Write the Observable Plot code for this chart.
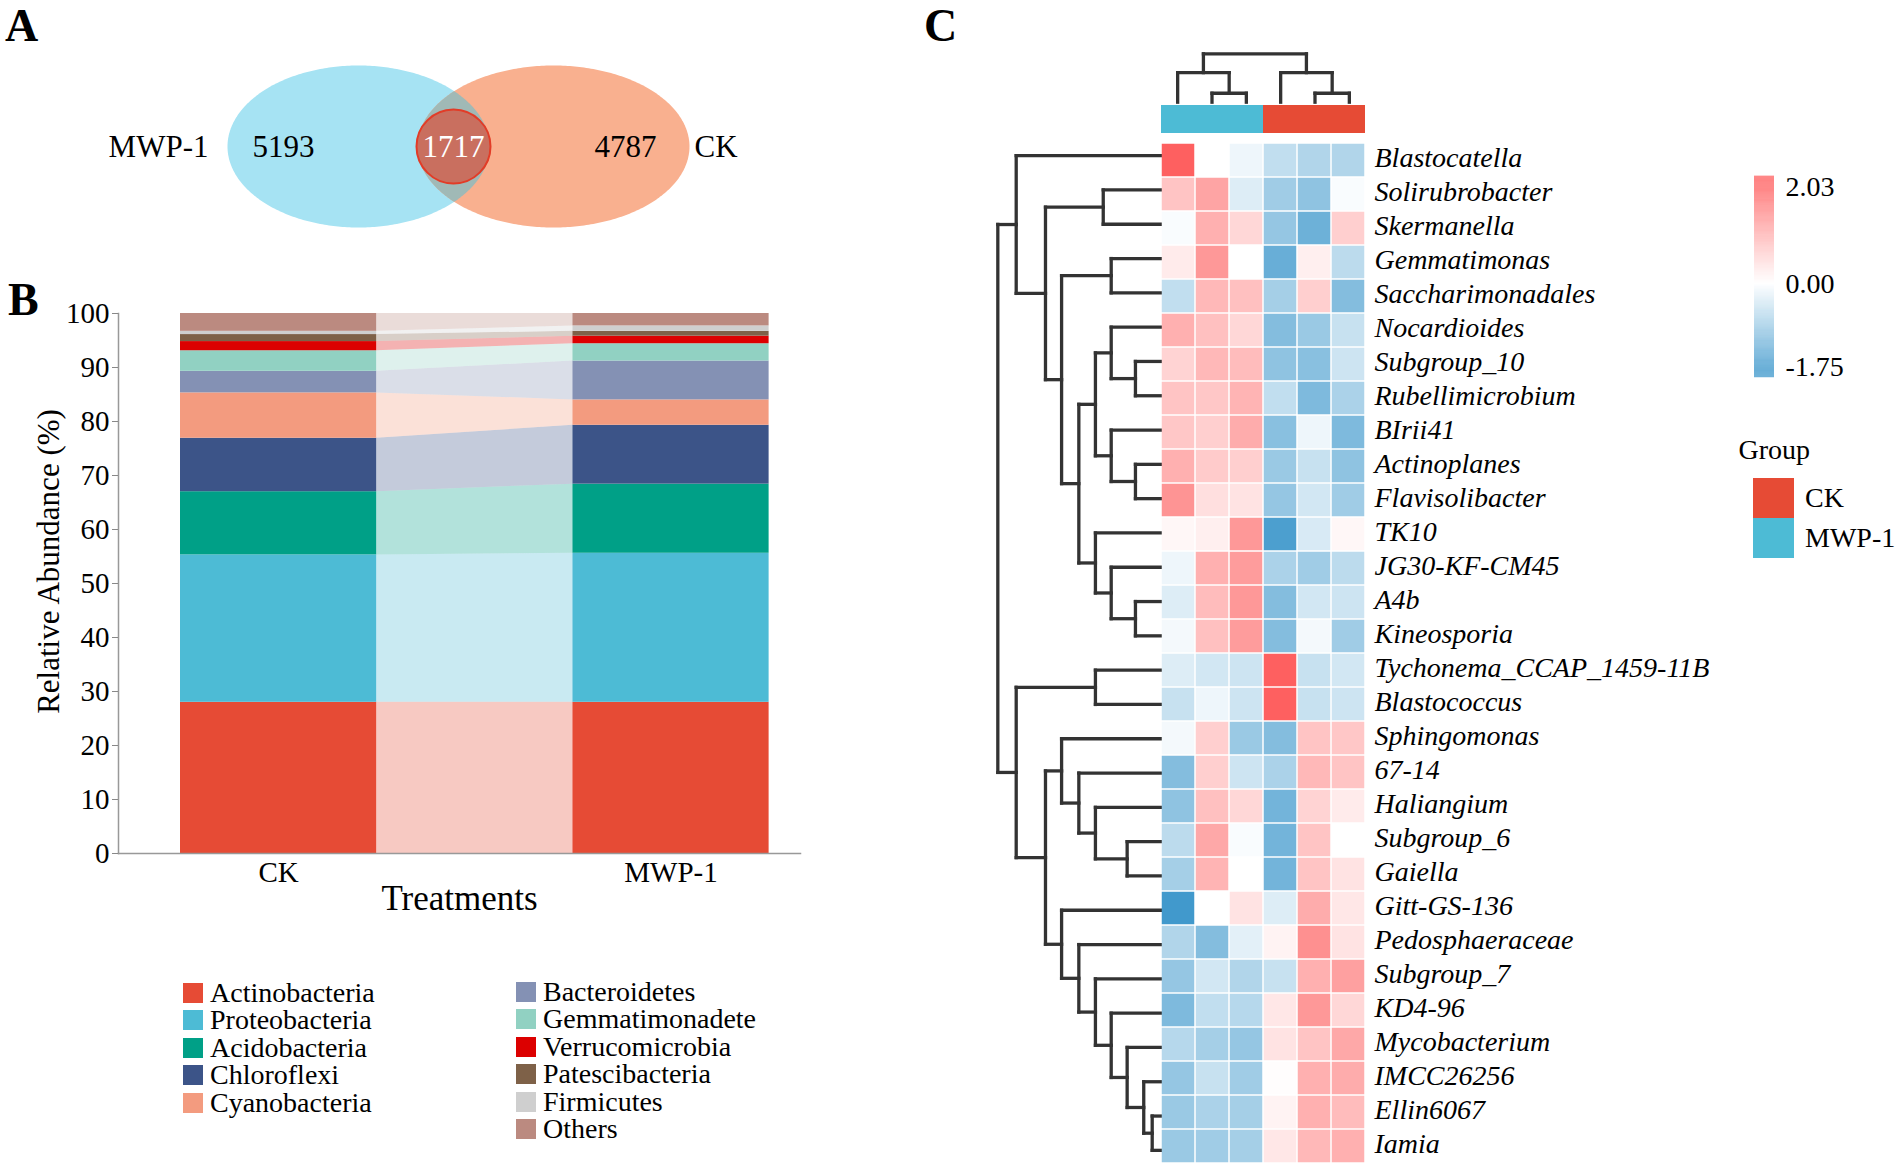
<!DOCTYPE html>
<html>
<head>
<meta charset="utf-8">
<script src="https://cdn.jsdelivr.net/npm/d3@7"></script>
<script src="https://cdn.jsdelivr.net/npm/@observablehq/plot@0.6"></script>
<style>
  html,body{margin:0;padding:0;background:#fff;}
  #fig{position:relative;width:1902px;height:1174px;overflow:hidden;background:#fff;
       font-family:"Liberation Serif","Times New Roman",serif;color:#000;}
  #fig .abs{position:absolute;}
  .plab{font-weight:bold;font-size:46px;line-height:1;}
  .leg{font-size:28px;line-height:26px;}
  .leg div{display:flex;align-items:center;height:27.5px;white-space:nowrap;}
  .leg span.sw{display:inline-block;width:20px;height:20px;margin-right:7px;flex:none;}
</style>
</head>
<body>
<div id="fig"></div>
<script>
// ================= DATA =================
// Panel A – Venn diagram
const vennNames = ["MWP-1", "CK"];
const vennOnly = [5193, 4787];
const vennShared = [1717];

// Panel B – relative abundance of phyla (%)
const treatments = ["CK", "MWP-1"];
const phyla = ["Actinobacteria", "Proteobacteria", "Acidobacteria", "Chloroflexi", "Cyanobacteria",
  "Bacteroidetes", "Gemmatimonadetes", "Verrucomicrobia", "Patescibacteria", "Firmicutes", "Others"];
const phylaLabels = ["Actinobacteria", "Proteobacteria", "Acidobacteria", "Chloroflexi", "Cyanobacteria",
  "Bacteroidetes", "Gemmatimonadete", "Verrucomicrobia", "Patescibacteria", "Firmicutes", "Others"];
const phylaColors = ["#e64b35", "#4dbbd5", "#00a087", "#3c5488", "#f39b7f",
  "#8491b4", "#91d1c2", "#dc0000", "#7e6148", "#cfcfcf", "#bb8a80"];
const abundanceCK  = [28.0, 27.3, 11.7, 9.9, 8.4, 4.0, 3.8, 1.7, 1.3, 0.6, 3.3];
const abundanceMWP = [28.0, 27.6, 12.8, 10.9, 4.7, 7.2, 3.2, 1.4, 0.9, 1.0, 2.3];
const yTickValues = [0, 10, 20, 30, 40, 50, 60, 70, 80, 90, 100];

// Panel C – heatmap of genera (row z-scores)
const genera = ["Blastocatella", "Solirubrobacter", "Skermanella", "Gemmatimonas", "Saccharimonadales",
  "Nocardioides", "Subgroup_10", "Rubellimicrobium", "BIrii41", "Actinoplanes", "Flavisolibacter",
  "TK10", "JG30-KF-CM45", "A4b", "Kineosporia", "Tychonema_CCAP_1459-11B", "Blastococcus",
  "Sphingomonas", "67-14", "Haliangium", "Subgroup_6", "Gaiella", "Gitt-GS-136", "Pedosphaeraceae",
  "Subgroup_7", "KD4-96", "Mycobacterium", "IMCC26256", "Ellin6067", "Iamia"];
const sampleCols = ["MWP-1 a", "MWP-1 b", "MWP-1 c", "CK a", "CK b", "CK c"];
const sampleGroups = ["MWP-1", "MWP-1", "MWP-1", "CK", "CK", "CK"];
const zScores = [
  [ 2.00,  0.00, -0.15, -0.55, -0.70, -0.70],
  [ 0.75,  1.15, -0.30, -0.85, -1.00, -0.05],
  [-0.05,  1.00,  0.50, -0.95, -1.30,  0.60],
  [ 0.25,  1.30,  0.00, -1.35,  0.20, -0.60],
  [-0.55,  0.90,  0.80, -0.80,  0.60, -1.10],
  [ 1.00,  0.80,  0.50, -1.10, -0.90, -0.50],
  [ 0.55,  0.90,  0.85, -1.00, -1.05, -0.45],
  [ 0.75,  0.70,  0.95, -0.55, -1.15, -0.75],
  [ 0.70,  0.60,  1.05, -1.05, -0.15, -1.15],
  [ 1.00,  0.65,  0.60, -0.90, -0.50, -1.00],
  [ 1.35,  0.40,  0.35, -0.95, -0.40, -0.85],
  [ 0.10,  0.20,  1.30, -1.60, -0.35,  0.10],
  [-0.15,  1.00,  1.25, -0.75, -0.85, -0.60],
  [-0.30,  0.85,  1.30, -1.10, -0.40, -0.45],
  [-0.10,  0.80,  1.25, -1.10, -0.10, -0.85],
  [-0.30, -0.40, -0.45,  2.00, -0.50, -0.40],
  [-0.50, -0.15, -0.45,  2.00, -0.50, -0.45],
  [-0.10,  0.60, -0.90, -1.10,  0.75,  0.70],
  [-1.10,  0.60, -0.45, -0.75,  0.90,  0.75],
  [-1.00,  0.80,  0.50, -1.25,  0.55,  0.25],
  [-0.60,  1.10, -0.05, -1.25,  0.75,  0.00],
  [-0.80,  0.95,  0.00, -1.25,  0.75,  0.35],
  [-1.70,  0.00,  0.35, -0.30,  1.05,  0.30],
  [-0.70, -1.10, -0.25,  0.15,  1.40,  0.35],
  [-0.95, -0.40, -0.70, -0.50,  1.00,  1.20],
  [-1.15, -0.55, -0.65,  0.30,  1.30,  0.50],
  [-0.65, -0.80, -0.95,  0.35,  0.75,  1.10],
  [-0.95, -0.50, -0.85,  0.02,  1.00,  1.05],
  [-0.90, -0.75, -0.80,  0.15,  1.00,  0.85],
  [-0.90, -0.85, -0.80,  0.30,  0.90,  1.00]];
// hclust-style merges: negative = leaf (1-based), positive = earlier merge step; third = height
const rowMerges = [
  [-2, -3, 3.52], [-4, -5, 3.03], [-7, -8, 1.54], [-6, 3, 3.03], [-10, -11, 1.54],
  [-9, 5, 3.03], [4, 6, 4.0], [-14, -15, 1.54], [-13, 8, 3.03], [-12, 9, 4.0],
  [7, 10, 5.02], [2, 11, 6.08], [1, 12, 7.07], [-1, 13, 8.87], [-16, -17, 4.0],
  [-21, -22, 2.05], [-20, 16, 4.0], [-19, 17, 5.02], [-18, 18, 6.08], [-29, -30, 0.51],
  [-28, 20, 1.03], [-27, 21, 2.05], [-26, 22, 3.03], [-25, 23, 4.0], [-24, 24, 5.02],
  [-23, 25, 6.08], [19, 26, 7.07], [15, 27, 8.87], [14, 28, 10.0]];
const colMerges = [[-2, -3, 1.0], [-1, 1, 3.3], [-5, -6, 1.0], [-4, 3, 3.3], [2, 4, 5.4]];
const legendTicks = [2.03, 0.00, -1.75];
const groupNames = ["CK", "MWP-1"];
const groupColors = ["#e64b35", "#4dbbd5"];

// ================= HELPERS =================
const fig = document.getElementById("fig");
const FONT = "Liberation Serif, Times New Roman, serif";
function place(el, left, top) {
  el.classList.add("abs");
  el.style.left = left + "px";
  el.style.top = top + "px";
  fig.appendChild(el);
  return el;
}
function baseStyle(extra = {}) {
  return Object.assign({fontFamily: FONT, fontSize: "28px", background: "transparent", overflow: "visible", color: "#000"}, extra);
}
function panelLetter(txt, left, top) {
  const d = document.createElement("div");
  d.className = "plab";
  d.textContent = txt;
  place(d, left, top);
}
function dendroSegments(merges) {
  const pos = [], hgt = [], segs = [];
  const get = k => k < 0 ? {p: -k - 1, h: 0} : {p: pos[k - 1], h: hgt[k - 1]};
  merges.forEach(([a, b, h], i) => {
    const A = get(a), B = get(b);
    pos[i] = (A.p + B.p) / 2; hgt[i] = h;
    segs.push({p1: A.p, h1: A.h, p2: A.p, h2: h});
    segs.push({p1: B.p, h1: B.h, p2: B.p, h2: h});
    segs.push({p1: A.p, h1: h, p2: B.p, h2: h});
  });
  return segs;
}

// ================= PANEL A : Venn =================
panelLetter("A", 5, 3);
{
  const eB = {cx: 358, cy: 146, rx: 131, ry: 81};
  const eO = {cx: 553, cy: 146, rx: 136, ry: 81};
  const shape = (e, a0) => d3.range(0, 361).map(i => {
    const t = a0 + i * Math.PI / 180;
    return {x: e.cx + e.rx * Math.cos(t), y: e.cy + e.ry * Math.sin(t)};
  });
  const inside = (p, e) => ((p.x - e.cx) / e.rx) ** 2 + ((p.y - e.cy) / e.ry) ** 2 <= 1;
  const bluePts = shape(eB, -Math.PI), orangePts = shape(eO, 0);
  const lens = bluePts.filter(p => inside(p, eO)).concat(orangePts.filter(p => inside(p, eB)));
  const svg = Plot.plot({
    width: 800, height: 300, margin: 0,
    x: {domain: [0, 800], range: [0, 800], axis: null},
    y: {domain: [0, 300], range: [0, 300], axis: null},
    style: baseStyle(),
    marks: [
      Plot.line(bluePts, {x: "x", y: "y", fill: "#a6e3f3", stroke: "none"}),
      Plot.line(orangePts, {x: "x", y: "y", fill: "#f9b08f", stroke: "none"}),
      Plot.line(lens, {x: "x", y: "y", fill: "#a0b9b6", stroke: "none"}),
      Plot.dot(vennShared, {x: () => 453, y: () => 146, r: 37, fill: "#c96f5f", stroke: "#e23c27", strokeWidth: 2}),
      Plot.text(vennShared, {x: () => 453, y: () => 147, text: d => String(d), fill: "white", fontSize: 31}),
      Plot.text([vennNames[0]], {x: () => 208, y: () => 147, text: d => d, textAnchor: "end", fontSize: 31}),
      Plot.text([vennOnly[0]], {x: () => 283, y: () => 147, text: d => String(d), fontSize: 31}),
      Plot.text([vennOnly[1]], {x: () => 625, y: () => 147, text: d => String(d), fontSize: 31}),
      Plot.text([vennNames[1]], {x: () => 694, y: () => 147, text: d => d, textAnchor: "start", fontSize: 31})
    ]
  });
  place(svg, 0, 0);
}

// ================= PANEL B : stacked bars =================
panelLetter("B", 8, 277);
{
  const stacks = [];
  treatments.forEach((t, ti) => {
    const vals = ti === 0 ? abundanceCK : abundanceMWP;
    let acc = 0;
    phyla.forEach((p, pi) => {
      stacks.push({t, p, x1: ti * 2, x2: ti * 2 + 1, y1: acc, y2: acc + vals[pi]});
      acc += vals[pi];
    });
  });
  const bands = phyla.flatMap(p => treatments.map((t, ti) => {
    const s = stacks.find(d => d.t === t && d.p === p);
    return {p, x: ti === 0 ? 1 : 2, y1: s.y1, y2: s.y2};
  }));
  const svg = Plot.plot({
    width: 820, height: 650,
    marginLeft: 118, marginRight: 20, marginTop: 33, marginBottom: 77,
    x: {domain: [-0.316, 3.16], axis: null},
    y: {domain: [0, 100]},
    color: {domain: phyla, range: phylaColors},
    style: baseStyle(),
    marks: [
      Plot.areaY(bands, {x: "x", y1: "y1", y2: "y2", z: "p", fill: "p", fillOpacity: 0.3}),
      Plot.rect(stacks, {x1: "x1", x2: "x2", y1: "y1", y2: "y2", fill: "p"}),
      Plot.frame({anchor: "left", stroke: "#999", strokeWidth: 1.5}),
      Plot.frame({anchor: "bottom", stroke: "#999", strokeWidth: 1.5}),
      Plot.axisY({ticks: yTickValues, tickSize: 6, tickPadding: 3, stroke: "#888", fontSize: 29, label: null}),
      Plot.axisX({ticks: treatments.map((t, i) => i * 2 + 0.5), tickFormat: d => treatments[Math.round((d - 0.5) / 2)],
        tickSize: 0, tickPadding: 8, fontSize: 29, label: null}),
      Plot.text(["Treatments"], {frameAnchor: "bottom", dy: 56, fontSize: 35}),
      Plot.text(["Relative Abundance (%)"], {frameAnchor: "left", dx: -69, dy: -22, rotate: -90, textAnchor: "middle", fontSize: 31})
    ]
  });
  place(svg, 0, 280);

  // legend
  const mk = (idxs, left, top) => {
    const box = document.createElement("div");
    box.className = "leg";
    idxs.forEach(i => {
      const row = document.createElement("div");
      const sw = document.createElement("span");
      sw.className = "sw"; sw.style.background = phylaColors[i];
      const tx = document.createElement("span");
      tx.textContent = phylaLabels[i];
      row.appendChild(sw);
      row.appendChild(tx);
      box.appendChild(row);
    });
    place(box, left, top);
  };
  mk([0, 1, 2, 3, 4], 183, 979);
  mk([5, 6, 7, 8, 9, 10], 516, 978);
}

// ================= PANEL C : heatmap =================
panelLetter("C", 924, 3);
const heatColor = {type: "linear", domain: [-1.75, 0, 2.03], range: ["#3b96cb", "#ffffff", "#fe5e5e"], clamp: true};
{
  // row dendrogram
  const rsegs = dendroSegments(rowMerges);
  const svgR = Plot.plot({
    width: 172, height: 1029, margin: 0,
    x: {domain: [10.45, 0], range: [0, 170], axis: null},
    y: {domain: [-0.5, genera.length - 0.5], range: [0, 1029], axis: null},
    style: baseStyle(),
    marks: [Plot.link(rsegs, {x1: "h1", y1: "p1", x2: "h2", y2: "p2", stroke: "#333", strokeWidth: 3.3, strokeLinecap: "square"})]
  });
  place(svgR, 990, 138);

  // column dendrogram
  const csegs = dendroSegments(colMerges);
  const svgC = Plot.plot({
    width: 206, height: 60, margin: 0,
    x: {domain: [-0.5, sampleCols.length - 0.5], range: [0, 206], axis: null},
    y: {domain: [0, 5.4], range: [56.7, 8.3], axis: null},
    style: baseStyle(),
    marks: [Plot.link(csegs, {x1: "p1", y1: "h1", x2: "p2", y2: "h2", stroke: "#333", strokeWidth: 3.3, strokeLinecap: "square"})]
  });
  place(svgC, 1160, 45);

  // group annotation bar
  const svgG = Plot.plot({
    width: 206, height: 28, margin: 0,
    x: {domain: sampleCols, range: [0, 206], padding: 0, axis: null},
    color: {domain: groupNames, range: groupColors},
    style: baseStyle(),
    marks: [Plot.cell(sampleCols.map((c, i) => ({c, g: sampleGroups[i]})), {x: "c", fill: "g"})]
  });
  place(svgG, 1160, 105);

  // heatmap cells + labels
  const cells = genera.flatMap((g, i) => sampleCols.map((c, j) => ({g, c, v: zScores[i][j]})));
  const svgH = Plot.plot({
    width: 560, height: 1029, marginLeft: 0, marginRight: 354, marginTop: 0, marginBottom: 0,
    x: {domain: sampleCols, padding: 0, axis: null},
    y: {domain: genera, padding: 0, axis: null},
    color: heatColor,
    style: baseStyle(),
    marks: [
      Plot.cell(cells, {x: "c", y: "g", fill: "v", inset: 0.75}),
      Plot.text(genera, {y: d => d, text: d => d, frameAnchor: "right", dx: 8, dy: -2, textAnchor: "start", fontStyle: "italic", fontSize: 28})
    ]
  });
  place(svgH, 1160, 138);

  // colour bar legend
  const steps = d3.range(-1.97, 2.26, 0.01);
  const svgL = Plot.plot({
    width: 150, height: 240, marginLeft: 14, marginRight: 116, marginTop: 0, marginBottom: 0,
    x: {axis: null},
    y: {domain: [-1.75, 2.03], range: [206.7, 26.7], axis: null},
    color: heatColor,
    style: baseStyle(),
    marks: [
      Plot.rect(steps, {y1: d => d, y2: d => d + 0.0105, fill: d => d}),
      Plot.text(legendTicks, {y: d => d, text: d => d.toFixed(2), frameAnchor: "right", dx: 11, textAnchor: "start", fontSize: 28})
    ]
  });
  place(svgL, 1740, 160);

  // group legend
  const svgGL = Plot.plot({
    width: 172, height: 140, margin: 0,
    x: {domain: ["g"], range: [23, 64], padding: 0, axis: null},
    y: {domain: groupNames, range: [53, 133], padding: 0, axis: null},
    color: {domain: groupNames, range: groupColors},
    style: baseStyle(),
    marks: [
      Plot.cell(groupNames, {x: () => "g", y: d => d, fill: d => d}),
      Plot.text(groupNames, {x: () => "g", y: d => d, text: d => d, dx: 31, textAnchor: "start", fontSize: 28}),
      Plot.text(["Group"], {frameAnchor: "top-left", dx: 8, dy: 25, textAnchor: "start", lineAnchor: "middle", fontSize: 28})
    ]
  });
  place(svgGL, 1730, 425);
}
</script>
</body>
</html>
